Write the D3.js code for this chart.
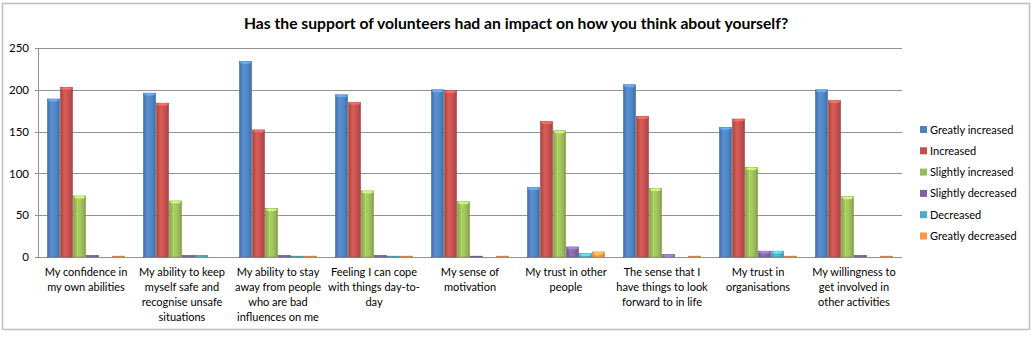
<!DOCTYPE html>
<html>
<head>
<meta charset="utf-8">
<script src="https://cdn.jsdelivr.net/npm/d3@7"></script>
<style>
  body { margin: 0; background: #fff; }
  text { font-family: Lato, "Open Sans", sans-serif; fill: #000; }
</style>
</head>
<body>
<svg id="chart" width="1036" height="339"></svg>
<script>
const title = "Has the support of volunteers had an impact on how you think about yourself?";

const categories = [
  "My confidence in\nmy own abilities",
  "My ability to keep\nmyself safe and\nrecognise unsafe\nsituations",
  "My ability to stay\naway from people\nwho are bad\ninfluences on me",
  "Feeling I can cope\nwith things day-to-\nday",
  "My sense of\nmotivation",
  "My trust in other\npeople",
  "The sense that I\nhave things to look\nforward to in life",
  "My trust in\norganisations",
  "My willingness to\nget involved in\nother activities"
];

const seriesNames = ["Greatly increased", "Increased", "Slightly increased", "Slightly decreased", "Decreased", "Greatly decreased"];
const seriesColors = ["#4F81BD", "#C0504D", "#9BBB59", "#8064A2", "#4BACC6", "#F79646"];

const greatlyIncreased  = [189, 196, 234, 194, 200, 83, 206, 155, 200];
const increased         = [203, 184, 152, 185, 199, 162, 168, 165, 187];
const slightlyIncreased = [73, 67, 58, 79, 66, 151, 82, 107, 72];
const slightlyDecreased = [2, 2, 2, 2, 1, 12, 3, 7, 2];
const decreased         = [0, 2, 1, 1, 0, 4, 0, 7, 0];
const greatlyDecreased  = [1, 0, 1, 1, 1, 6, 1, 1, 1];

const yTicks = [0, 50, 100, 150, 200, 250];

const series = [greatlyIncreased, increased, slightlyIncreased, slightlyDecreased, decreased, greatlyDecreased];

const svg = d3.select("#chart");

// outer frame
svg.append("rect")
  .attr("x", 2.5).attr("y", 3.5)
  .attr("width", 1027).attr("height", 326)
  .attr("fill", "#fff")
  .attr("stroke", "#bfbfbf")
  .attr("stroke-width", 1.5);

svg.append("text")
  .attr("x", 516).attr("y", 29)
  .attr("text-anchor", "middle")
  .attr("font-size", 15.7)
  .attr("font-weight", "bold")
  .text(title);

const plot = { left: 38, right: 902, top: 48, bottom: 257 };

const x0 = d3.scaleBand()
  .domain(categories)
  .range([plot.left, plot.right])
  .paddingInner(0.1875)
  .paddingOuter(0.09375);

const x1 = d3.scaleBand()
  .domain(seriesNames)
  .range([0, x0.bandwidth()]);

const y = d3.scaleLinear()
  .domain([0, 250])
  .range([plot.bottom, plot.top]);

// gridlines
svg.append("g")
  .selectAll("line")
  .data(yTicks)
  .join("line")
  .attr("x1", plot.left - 3).attr("x2", plot.right)
  .attr("y1", d => Math.round(y(d)) + 0.5)
  .attr("y2", d => Math.round(y(d)) + 0.5)
  .attr("stroke", "#929292")
  .attr("stroke-width", 1);

svg.append("line")
  .attr("x1", plot.left + 0.5).attr("x2", plot.left + 0.5)
  .attr("y1", plot.top).attr("y2", plot.bottom)
  .attr("stroke", "#929292");

// y axis labels
const yAxis = d3.axisLeft(y).tickValues(yTicks).tickSize(0).tickPadding(9);
svg.append("g")
  .attr("transform", `translate(${plot.left},0)`)
  .call(yAxis)
  .call(g => g.select(".domain").remove())
  .selectAll("text")
  .attr("font-size", 11.5)
  .attr("font-family", "Lato, 'Open Sans', sans-serif")
  .attr("fill", "#000");

// cylinder-like shading for each series
const defs = svg.append("defs");
seriesColors.forEach((c, i) => {
  const g = defs.append("linearGradient")
    .attr("id", "grad" + i)
    .attr("x1", "0%").attr("x2", "100%")
    .attr("y1", "0%").attr("y2", "0%");
  const base = d3.color(c);
  g.append("stop").attr("offset", "0%").attr("stop-color", base.darker(0.4));
  g.append("stop").attr("offset", "35%").attr("stop-color", base.brighter(0.35));
  g.append("stop").attr("offset", "75%").attr("stop-color", base);
  g.append("stop").attr("offset", "100%").attr("stop-color", base.darker(0.5));
});

const groups = svg.append("g")
  .selectAll("g")
  .data(categories)
  .join("g")
  .attr("transform", d => `translate(${x0(d)},0)`);

groups.selectAll("rect")
  .data((d, ci) => seriesNames.map((s, si) => ({ s, si, v: series[si][ci] })))
  .join("rect")
  .filter(d => d.v > 0)
  .attr("x", d => x1(d.s) + 0.5)
  .attr("y", d => y(d.v))
  .attr("width", x1.bandwidth() - 1)
  .attr("height", d => y(0) - y(d.v))
  .attr("fill", d => `url(#grad${d.si})`)
  .attr("stroke", d => d3.color(seriesColors[d.si]).darker(0.6))
  .attr("stroke-width", 0.6);

// light caps on bar tops
groups.selectAll("ellipse")
  .data((d, ci) => seriesNames.map((s, si) => ({ s, si, v: series[si][ci] })).filter(d => d.v > 2))
  .join("ellipse")
  .attr("cx", d => x1(d.s) + x1.bandwidth() / 2)
  .attr("cy", d => y(d.v) + 1.2)
  .attr("rx", x1.bandwidth() / 2 - 1)
  .attr("ry", 1.3)
  .attr("fill", d => d3.color(seriesColors[d.si]).brighter(0.8));

// category labels
const labels = svg.append("g")
  .selectAll("text")
  .data(categories)
  .join("text")
  .attr("text-anchor", "middle")
  .attr("font-size", 11)
  .attr("x", d => x0(d) + x0.bandwidth() / 2)
  .attr("y", 276);

labels.selectAll("tspan")
  .data(d => d.split("\n"))
  .join("tspan")
  .attr("x", function () { return this.parentNode.getAttribute("x"); })
  .attr("dy", (d, i) => i === 0 ? 0 : 15)
  .text(d => d);

// legend
const legend = svg.append("g")
  .selectAll("g")
  .data(seriesNames)
  .join("g")
  .attr("transform", (d, i) => `translate(920,${129.5 + i * 21.3})`);

legend.append("rect")
  .attr("x", 0).attr("y", -3.5)
  .attr("width", 7).attr("height", 7)
  .attr("fill", (d, i) => seriesColors[i]);

legend.append("text")
  .attr("x", 10).attr("y", 4)
  .attr("font-size", 11)
  .text(d => d);
</script>
</body>
</html>
